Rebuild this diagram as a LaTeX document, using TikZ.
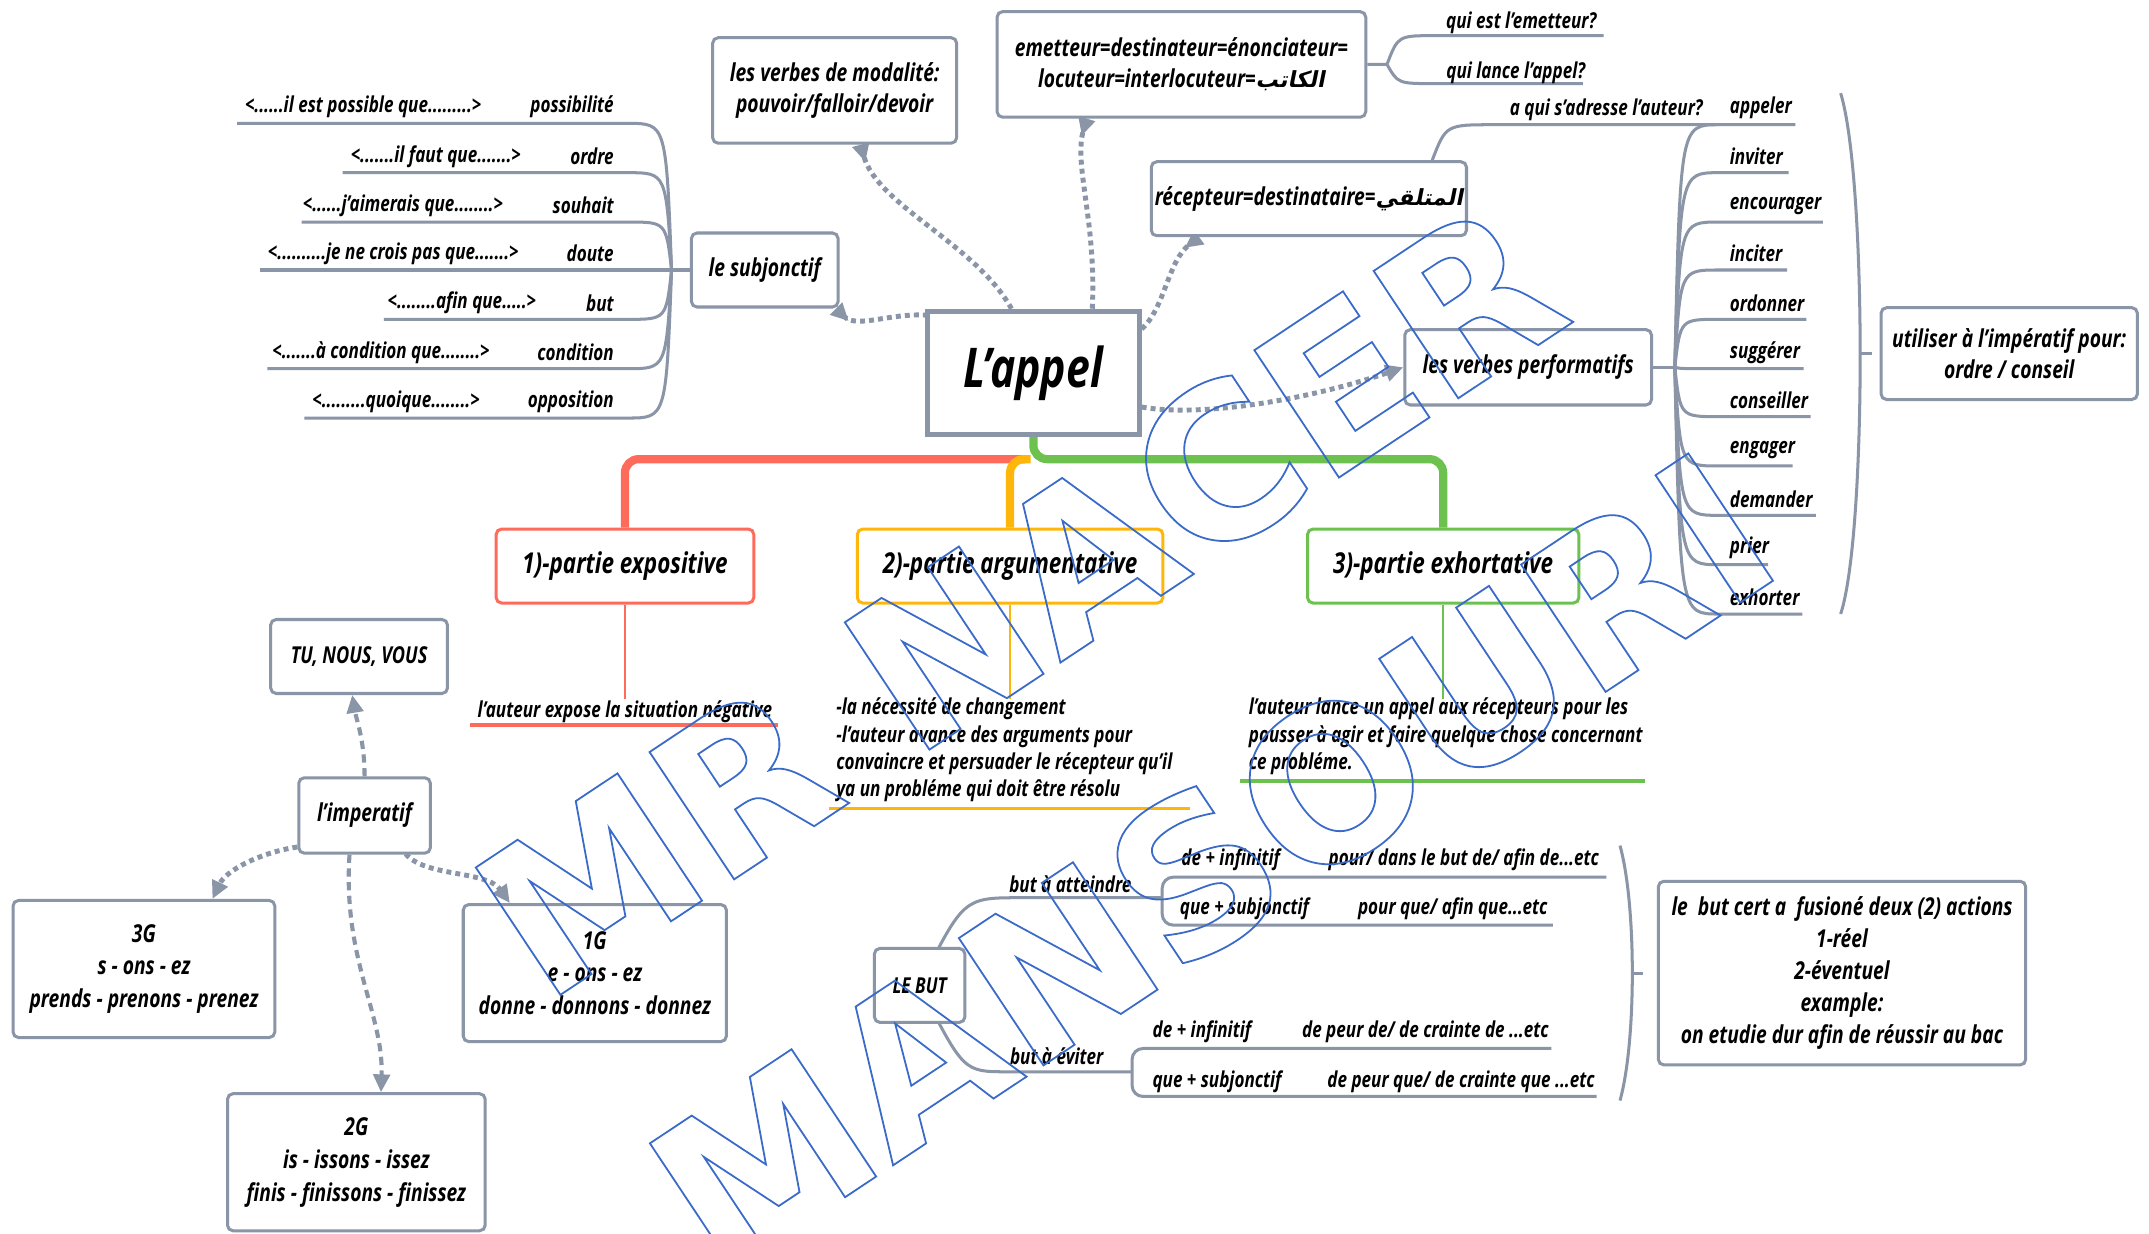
\documentclass[tikz,border=0pt]{standalone}
\usepackage{fontspec}
\setmainfont{Open Sans}[FakeStretch=0.78]
\newfontfamily\arabicfont[Script=Arabic,FakeSlant=0.2,Scale=0.9]{DejaVu Sans}
\newfontfamily\wmfont{DejaVu Sans}
\TeXXeTstate=1
\usetikzlibrary{arrows.meta}
\definecolor{gl}{HTML}{8A95A7}
\definecolor{redc}{HTML}{FF6B5B}
\definecolor{orc}{HTML}{FFB60A}
\definecolor{grc}{HTML}{6DC24F}
\definecolor{wmb}{HTML}{3A6BC9}
\newcommand\ft[2]{\fontsize{#1}{#2}\selectfont\bfseries\itshape}
\newcommand\wmtext[1]{\special{pdf:literal direct 1 Tr 1.3 w}#1\special{pdf:literal direct 0 Tr}}
\newcommand\ar[1]{{\arabicfont\upshape\beginR #1\endR}}
\pgfdeclarelayer{bg}
\pgfsetlayers{bg,main}
\tikzset{
  lab/.style={inner sep=0pt, font=\ft{16}{19}},
  boxx/.style={draw=gl, line width=2.2pt, rounded corners=4pt, fill=white, inner sep=0pt, align=center, font=\ft{18}{23}},
  leaf/.style={draw=gl, line width=2.2pt},
  dotc/.style={draw=gl, line width=3.6pt, dash pattern=on 3.6pt off 3pt},
  dashc/.style={draw=gl, line width=3pt, dash pattern=on 6pt off 4pt},
  tipf/.style={-{Triangle[length=13pt,width=12pt,fill=gl]}},
  tipr/.style={-{Triangle[reversed,length=13pt,width=12pt,fill=gl]}},
  br/.style={line width=6pt, rounded corners=10pt},
  wmark/.style={rotate=33.6, inner sep=0pt, text=wmb, font=\wmfont\bfseries\fontsize{153}{160}\selectfont}
}
\begin{document}
\begin{tikzpicture}[x=1pt,y=-1pt]
\useasboundingbox (0,0) rectangle (1568,900);
\begin{pgfonlayer}{bg}
\fill[white] (0,0) rectangle (1568,900);
\end{pgfonlayer}

% ---------- boxes ----------
\node[boxx, minimum width=178, minimum height=77] (modal) at (609,66) {les verbes de modalité:\\pouvoir/falloir/devoir};
\node[boxx, minimum width=269, minimum height=77] (emet) at (862,47) {emetteur=destinateur=énonciateur=\\locuteur=interlocuteur=\ar{الكاتب}};
\node[boxx, minimum width=230, minimum height=54] (recep) at (955,145) {récepteur=destinataire=\ar{المتلقي}};
\node[boxx, minimum width=107, minimum height=54] (subj) at (558,197) {le subjonctif};
\node[boxx, rounded corners=0pt, line width=3.5pt, minimum width=155, minimum height=90, font=\ft{40}{44}] (appel) at (754,272) {L'appel};
\node[boxx, minimum width=180, minimum height=55] (perf) at (1115,268) {les verbes performatifs};
\node[boxx, minimum width=187, minimum height=67] (util) at (1466,258) {utiliser à l'impératif pour:\\ordre / conseil};
\node[boxx, draw=redc, minimum width=188, minimum height=54, font=\ft{21}{24}] (p1) at (456,413) {1)-partie expositive};
\node[boxx, draw=orc, minimum width=223, minimum height=54, font=\ft{21}{24}] (p2) at (737,413) {2)-partie argumentative};
\node[boxx, draw=grc, minimum width=198, minimum height=54, font=\ft{21}{24}] (p3) at (1053,413) {3)-partie exhortative};
\node[boxx, minimum width=129, minimum height=54, font=\ft{17}{21}] (tu) at (262,479) {TU, NOUS, VOUS};
\node[boxx, minimum width=96, minimum height=55] (imp) at (266,595) {l'imperatif};
\node[boxx, minimum width=191, minimum height=100, font=\ft{18}{24}] (g3) at (105,707) {3G\\s - ons - ez\\prends - prenons - prenez};
\node[boxx, minimum width=192, minimum height=100, font=\ft{18}{24}] (g1) at (434,710) {1G\\e - ons - ez\\donne - donnons - donnez};
\node[boxx, minimum width=188, minimum height=100, font=\ft{18}{24}] (g2) at (260,848) {2G\\is - issons - issez\\finis - finissons - finissez};
\node[boxx, minimum width=66, minimum height=54, font=\ft{16}{18}] (lebut) at (671,719) {LE BUT};
\node[boxx, minimum width=268, minimum height=134, font=\ft{18}{23.5}] (butbox) at (1344,710) {le~ but cert a~ fusioné deux (2) actions\\1-réel\\2-éventuel\\example:\\on etudie dur afin de réussir au bac};

% ---------- subjonctif leaves ----------
\coordinate (hubS) at (490,197);
\foreach \n/\lab/\txt/\cx/\y/\xs in {
  1/possibilité/{<......il est possible que.........>}/265/78/173,
  2/ordre/{<.......il faut que.......>}/318/114/250,
  3/souhait/{<......j'aimerais que........>}/294/150/220,
  4/doute/{<..........je ne crois pas que.......>}/287/185/190,
  5/but/{<........afin que.....>}/337/221/280,
  6/condition/{<.......à condition que........>}/278/257/195,
  7/opposition/{<.........quoique........>}/289/293/222}{
  \node[lab, anchor=east] (sl\n) at (448,\y) {\lab};
  \node[lab] (st\n) at (\cx,\y) {\txt};
  \pgfmathsetmacro\yl{\y+12}
  \begin{pgfonlayer}{bg}
  \draw[leaf] (\xs,\yl) -- (458,\yl) .. controls (486,\yl) .. (hubS);
  \end{pgfonlayer}
}

% ---------- performatif leaves ----------
\coordinate (hubP) at (1222,268);
\foreach \n/\lab/\y/\xe in {
  1/appeler/79/1310, 2/inviter/114/1305, 3/encourager/150/1330, 4/inciter/185/1304,
  5/ordonner/221/1318, 6/suggérer/257/1316, 7/conseiller/292/1321, 8/engager/328/1308,
  9/demander/364/1325, 10/prier/400/1290, 11/exhorter/436/1315}{
  \node[lab, anchor=west] (v\n) at (1262,\y) {\lab};
  \pgfmathsetmacro\yl{\y+12}
  \begin{pgfonlayer}{bg}
  \draw[leaf] (hubP) .. controls (1226,\yl) .. (1254,\yl) -- (\xe,\yl);
  \end{pgfonlayer}
}

% ---------- question labels ----------
\node[lab] (q1) at (1110,17) {qui est l'emetteur?};
\node[lab] (q2) at (1106,53) {qui lance l'appel?};
\node[lab] (q3) at (1172,80) {a qui s'adresse l'auteur?};

% ---------- part texts ----------
\node[lab, font=\ft{16}{20}] (t1) at (456,519) {l'auteur expose la situation négative};
\node[lab, font=\ft{16}{20}, align=left, anchor=north west] (t2) at (610,509) {-la nécessité de changement\\-l'auteur avance des arguments pour\\convaincre et persuader le récepteur qu'il\\ya un probléme qui doit être résolu};
\node[lab, font=\ft{16}{20}, align=left, anchor=north west] (t3) at (911,509) {l'auteur lance un appel aux récepteurs pour les\\pousser à agir et faire quelque chose concernant\\ce probléme.};

% ---------- but labels ----------
\node[lab] (ba) at (781,645) {but à atteindre};
\node[lab] (be) at (771,771) {but à éviter};
\node[lab] (b1) at (898,627) {de + infinitif};
\node[lab] (b2) at (1068,627) {pour/ dans le but de/ afin de...etc};
\node[lab] (b3) at (908,663) {que + subjonctif};
\node[lab] (b4) at (1060,663) {pour que/ afin que...etc};
\node[lab] (b5) at (877,753) {de + infinitif};
\node[lab] (b6) at (1040,753) {de peur de/ de crainte de ...etc};
\node[lab] (b7) at (888,789) {que + subjonctif};
\node[lab] (b8) at (1066,789) {de peur que/ de crainte que ...etc};

% ---------- connectors (background) ----------
\begin{pgfonlayer}{bg}
\draw[leaf] (hubS) -- (subj.west);
\draw[leaf] (perf.east) -- (hubP);
\draw[leaf] (emet.east) -- (1012,47) .. controls (1020,26) .. (1047,26) -- (1170,26);
\draw[leaf] (1012,47) .. controls (1020,61) .. (1047,61) -- (1155,61);
\draw[leaf] (recep.north -| 1045,0) .. controls (1055,91) .. (1090,91) -- (1254,91);
\draw[leaf] (1343,68) .. controls (1362,130) and (1362,390) .. (1343,448);
\draw[leaf] (1357,258) -- (util.west -| 1366,0);
\draw[leaf] (1182,617) .. controls (1194,660) and (1194,760) .. (1182,803);
\draw[leaf] (1191,710) -- (1199,710);
% LE BUT
\draw[leaf] (lebut.center) .. controls (703,655) .. (745,655) -- (848,655);
\draw[leaf, rounded corners=8pt] (1172,640) -- (848,640) -- (848,675) -- (1133,675);
\draw[leaf] (lebut.center) .. controls (703,782) .. (735,782) -- (826,782);
\draw[leaf, rounded corners=8pt] (1132,765) -- (826,765) -- (826,800) -- (1165,800);
% coloured branches
\draw[br, draw=redc] (748,335) -| (p1.north);
\draw[br, draw=orc] (752,335) -| (p2.north);
\draw[br, draw=grc] (appel.south) -- (754,335) -| (p3.north);
\draw[redc, line width=1.6pt] (p1.south) -- (456,510);
\draw[orc, line width=1.6pt] (p2.south) -- (737,510);
\draw[grc, line width=1.6pt] (p3.south) -- (1053,510);
\draw[redc, line width=2.6pt] (343,529) -- (568,529);
\draw[orc, line width=2.6pt] (605,590) -- (868,590);
\draw[grc, line width=2.6pt] (905,570) -- (1200,570);
% dotted relations
\draw[dotc, tipr] (appel.north -| 738,0) .. controls (712,178) and (640,150) .. (modal.south -| 628,0);
\draw[dotc, tipr] (appel.north -| 797,0) .. controls (800,160) and (783,120) .. (emet.south -| 793,0);
\draw[dotc, tipr] (833,240) .. controls (850,225) and (852,190) .. (recep.south -| 875,0);
\draw[dotc, tipr] (677,230) .. controls (650,228) and (625,240) .. (subj.south -| 610,0);
\draw[dotc, tipf] (833,297) .. controls (880,305) and (960,290) .. (perf.west);
\draw[dashc, tipf] (imp.north) .. controls (266,540) and (260,525) .. (tu.south -| 257,0);
\draw[dotc, tipf] (imp.west |- 0,618) .. controls (190,622) and (165,635) .. (g3.north -| 155,0);
\draw[dotc, tipf] (296,623) .. controls (310,640) and (355,635) .. (g1.north -| 372,0);
\draw[dashc, tipf] (imp.south -| 255,0) .. controls (250,700) and (280,740) .. (g2.north -| 278,0);
\end{pgfonlayer}

% ---------- watermark ----------
\node[wmark] (wm1) at (743,437) {\wmtext{MR NACER}};
\node[wmark] (wm2) at (884,629) {\wmtext{MANSOURI}};
\end{tikzpicture}
\end{document}
